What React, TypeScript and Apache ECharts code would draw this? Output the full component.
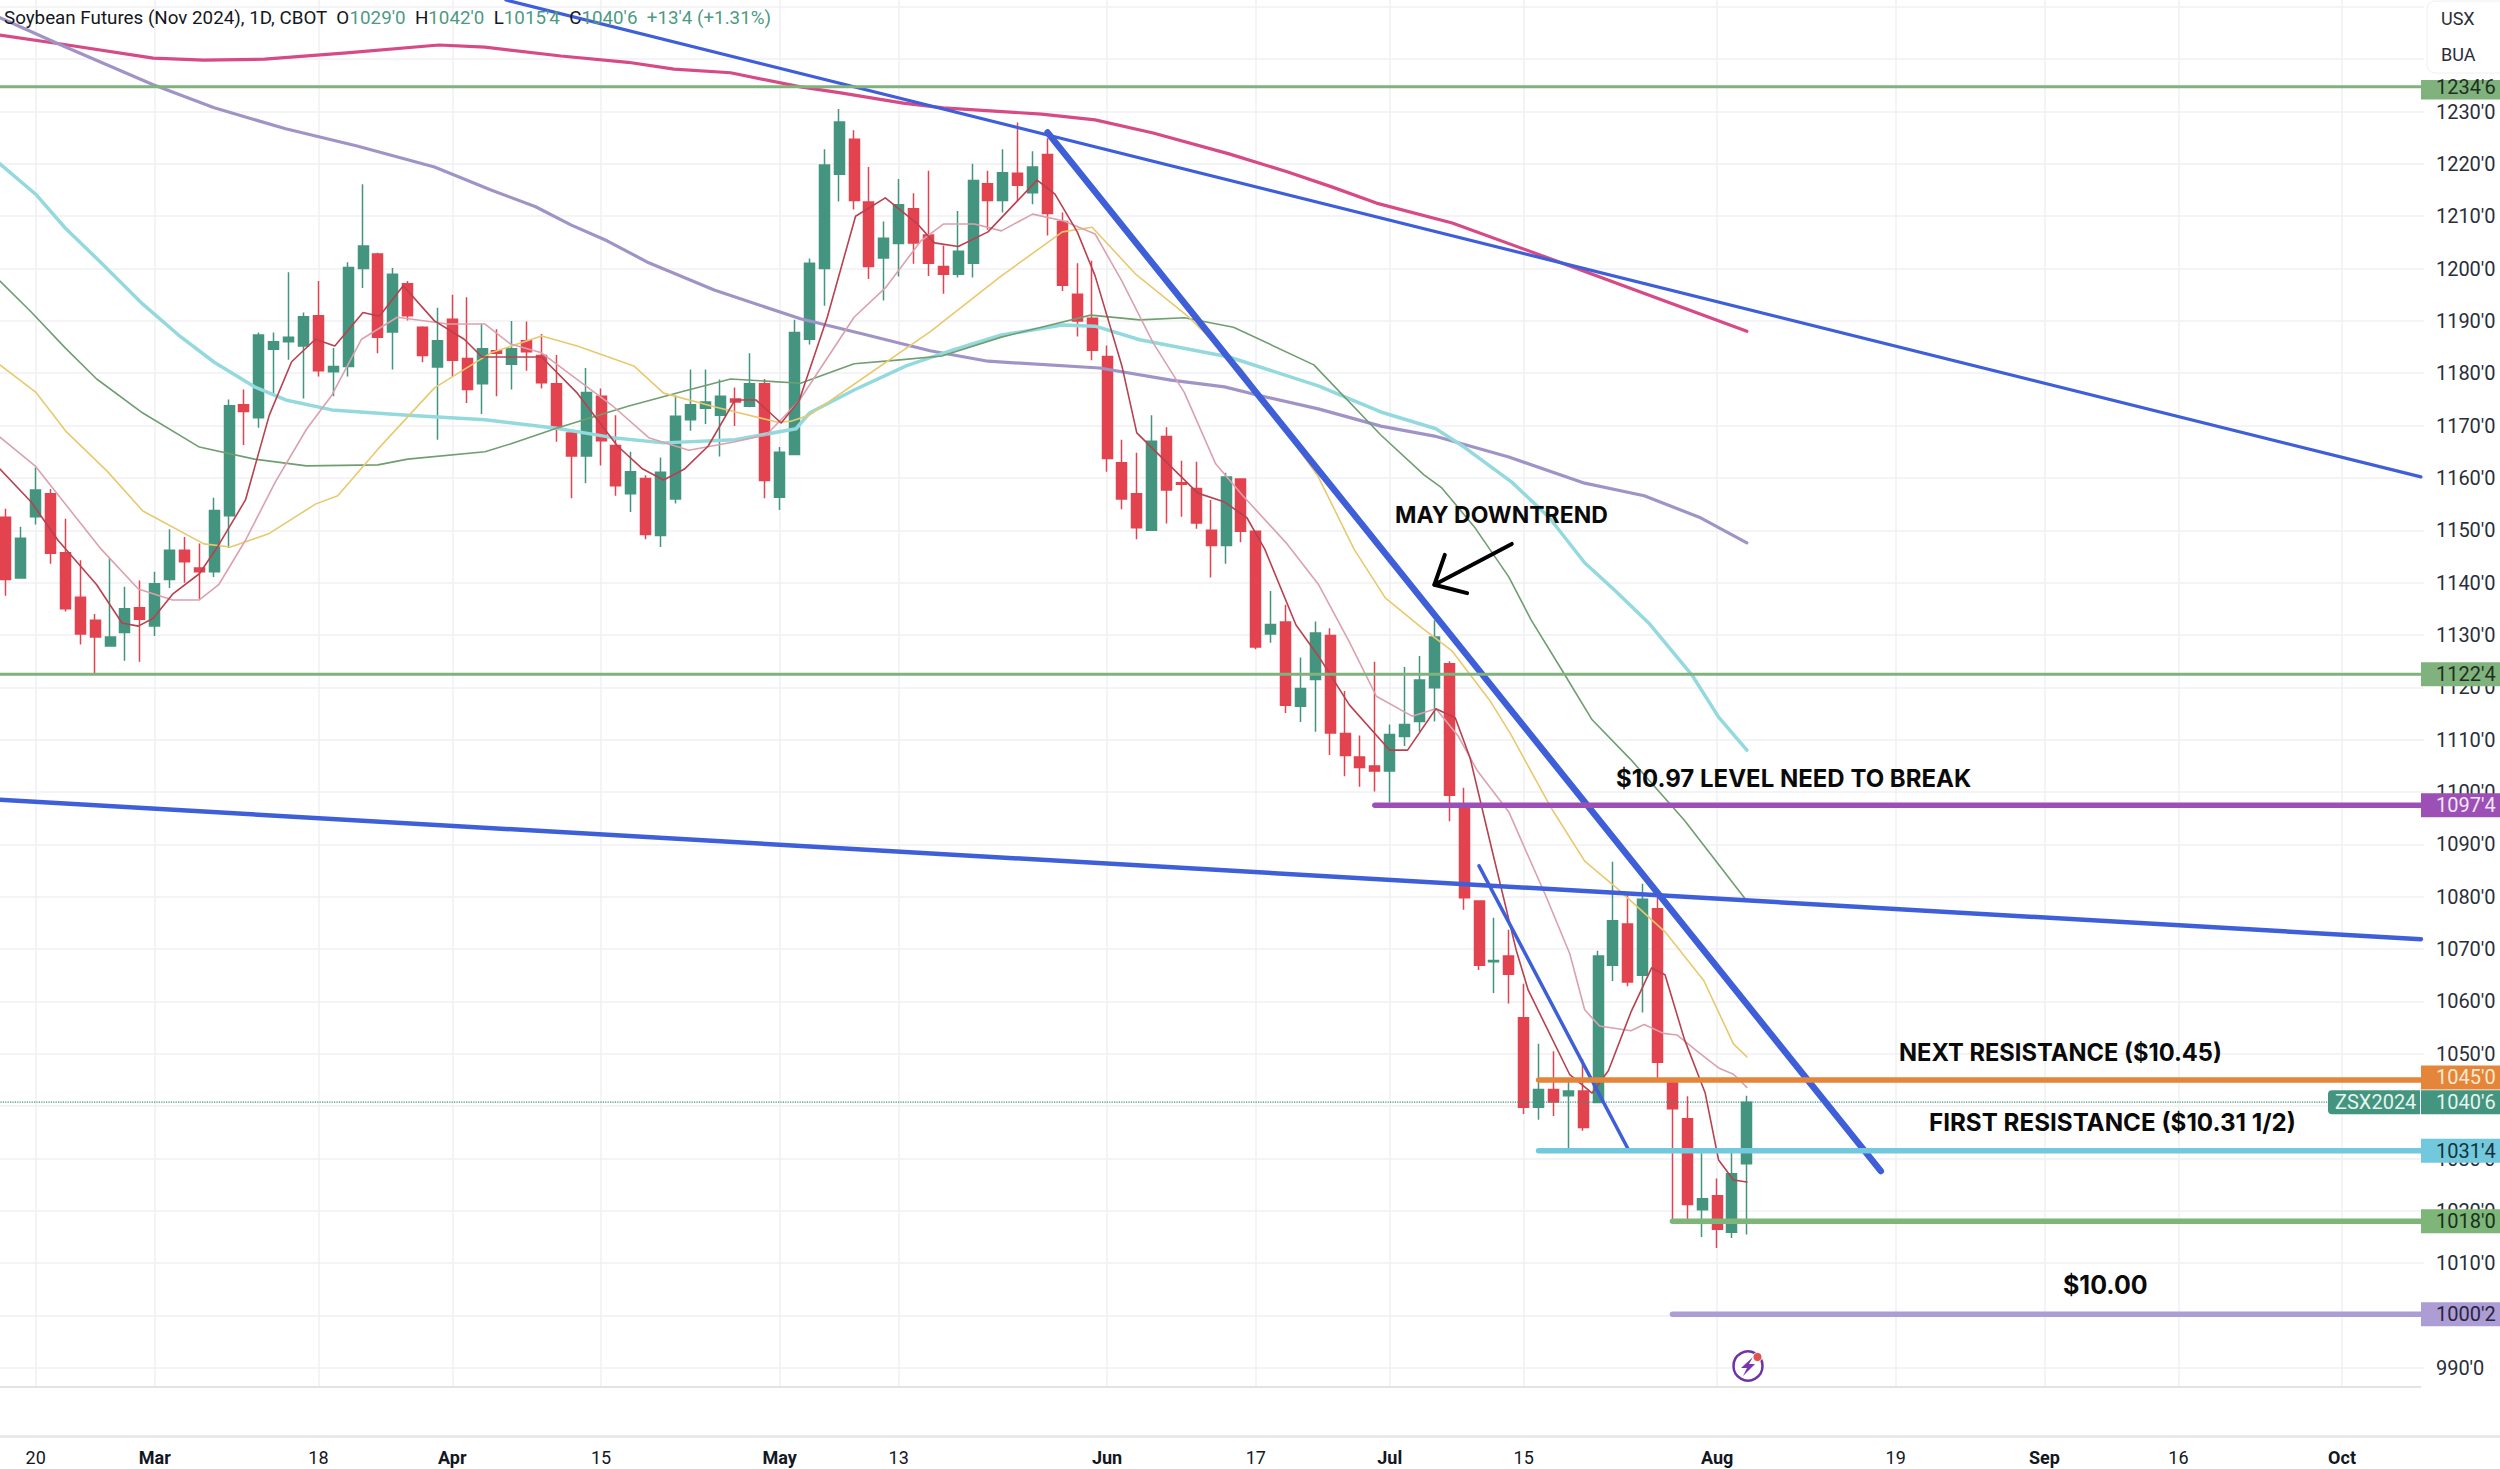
import React, { useEffect, useRef } from "react";
import * as echarts from "echarts";

// bar position 0 is 20 Feb 2024; the axis runs from bar -3 to bar 160
const firstBar = -3;
const lastBar = 160;
const tickBars = [0, 8, 19, 28, 38, 50, 58, 72, 82, 91, 100, 113, 125, 135, 144, 155];
const tickNames = ["20", "Mar", "18", "Apr", "15", "May", "13", "Jun", "17", "Jul", "15", "Aug", "19", "Sep", "16", "Oct"];
const monthNames = ["Mar", "Apr", "May", "Jun", "Jul", "Aug", "Sep", "Oct"];

// open, close, low, high from bar -2 to bar 115
const priceBars = [
  [1152.5,1140.6,1137.5,1154.1],[1140.9,1148.5,1140.9,1150.7],[1152.6,1157.7,1151.1,1162],[1157,1145.6,1143.6,1157.9],
  [1145.7,1135,1134.5,1152.2],[1137.2,1130.2,1128.2,1144.3],[1132.8,1129.6,1122.5,1134],[1127.9,1129.6,1127.9,1144.7],
  [1130.5,1135,1125.1,1139.2],[1135.2,1133,1124.9,1140.4],[1131.7,1139.8,1129.8,1142.1],[1140.6,1146.2,1139,1150.2],
  [1146.2,1144,1140,1148.7],[1142.8,1142.1,1136.8,1147.5],[1142.1,1153.8,1141.1,1156.2],[1152.8,1173.8,1146.6,1175],
  [1174,1172.7,1166.3,1176.9],[1171.5,1187.3,1169.6,1187.8],[1184.6,1186,1175.8,1187.8],[1186,1186.9,1182.6,1199.3],
  [1185.2,1190.8,1175.2,1191.6],[1191,1180.5,1179.4,1197.6],[1180.3,1181.3,1175.6,1184.8],[1181.3,1200.2,1179.4,1201.2],
  [1200,1204.3,1196.3,1216.1],[1202.8,1186.9,1183.8,1203],[1187.9,1198.9,1180.7,1200.1],[1197.1,1191,1190.1,1197.6],
  [1188.8,1183.4,1182.1,1189],[1181.2,1186.2,1167.3,1192.5],[1190.3,1182.5,1179.4,1195],[1182.8,1176.9,1174.3,1194.5],
  [1178,1184.7,1172.2,1189.5],[1184.3,1183.8,1175.6,1188.4],[1181.7,1184.7,1176.9,1190],[1186.2,1184.1,1180.5,1189.9],
  [1183.4,1178.2,1177.1,1187.5],[1178,1169.6,1166.9,1183.5],[1168.6,1164.2,1156.1,1169],[1164.2,1176.3,1159,1181],
  [1175.6,1167.1,1162.4,1177.1],[1166.2,1158.5,1156.6,1172],[1157,1161.2,1153.5,1165],[1159.9,1149.2,1148.3,1160.5],
  [1149,1161.1,1146.8,1163.9],[1156,1171.8,1155.1,1175.8],[1171.1,1174,1169,1180.7],[1173.3,1174.5,1170.3,1180.7],
  [1172,1175.6,1164.1,1178.8],[1175.1,1174.5,1169.9,1177.3],[1173.7,1178,1173.5,1183.8],[1178,1159.5,1156.1,1178.9],
  [1156.3,1164.9,1153.9,1165.9],[1164.5,1187.8,1164.5,1190.2],[1186.5,1201,1185.5,1201.9],[1200,1219.8,1192.9,1222.8],
  [1218,1228,1212.8,1230.5],[1224.7,1213,1211.3,1226.4],[1212.7,1200.4,1198,1219.4],[1202,1205.8,1193.9,1209],
  [1204.8,1212.2,1198.5,1217.1],[1211.4,1204.9,1200.9,1214.4],[1206.4,1201,1198.6,1218.7],[1200.4,1198.9,1195.2,1204.4],
  [1198.9,1203.3,1198.3,1211],[1201,1216.8,1198.3,1220],[1216.2,1213,1207.4,1218.7],[1213,1218.3,1210.7,1222.8],
  [1218.2,1215.9,1212.8,1227.9],[1214.5,1219.4,1212.3,1222.4],[1221.8,1210.5,1206.3,1224.9],[1209,1196.8,1195.7,1210.7],
  [1195.1,1190,1187,1201],[1190.5,1184.4,1182.5,1201.5],[1183.2,1163.7,1161.2,1185.3],[1162.9,1156,1154,1167.3],
  [1157,1150.5,1148.3,1164.8],[1150,1167,1150,1172],[1167.9,1157.7,1151.3,1169.7],[1159.1,1158.8,1152.6,1163.3],
  [1158,1151.4,1150.3,1163.1],[1150,1147.1,1141,1155.8],[1147.1,1160.2,1143.6,1161],[1159.8,1149.8,1147.7,1159.8],
  [1149.8,1127.7,1127.3,1149.8],[1130.2,1132,1128.5,1138.4],[1132.5,1116.6,1115.1,1135.8],[1116.4,1119.8,1113.4,1125.7],
  [1121.5,1130.4,1111.5,1132.6],[1129.9,1111.3,1107.1,1131.3],[1111.2,1107,1103,1119.3],[1106.7,1104.7,1101,1110.8],
  [1105,1104,1100.1,1124.9],[1104,1111,1098,1112.9],[1110.6,1112.9,1108.8,1123.9],[1113.5,1121.4,1111.5,1126],
  [1119.9,1129.6,1113.5,1132.8],[1124.5,1099.4,1094.4,1125],[1097.7,1079.8,1077.5,1100.8],[1079.2,1066.9,1066,1079.2],
  [1067.6,1067.8,1061.6,1076],[1068.7,1065.2,1059.6,1073.7],[1056.9,1039.8,1038.5,1063.4],[1039.8,1043.2,1037.4,1051.9],
  [1043.2,1040.8,1038.1,1050.5],[1042,1042.9,1031.9,1044.7],[1042.9,1035.9,1035.3,1049],[1040.7,1068.7,1040.7,1069.7],
  [1066.9,1075.4,1063.9,1086.7],[1074.8,1063.7,1062.9,1080.9],[1065,1079.5,1057.9,1082.5],[1077.7,1048.4,1044.7,1080.1],
  [1044.7,1039.5,1017.8,1045.1],[1037.6,1021.2,1018.2,1041.9],[1020.2,1022.3,1015,1031],[1022.9,1016.5,1012.9,1026.2],
  [1015.9,1027.1,1014.8,1031.9],[1029,1040.75,1015.5,1042],
];

// moving averages, as [bar position, price] pairs
const maCrimson = [[-3.5,1245],[-2.4,1244.6],[1.7,1242.9],[7.9,1240.2],[11.3,1239.8],[15.4,1240],[20.9,1241.2],[27.1,1242.7],[30.2,1242.3],[35.3,1240.6],[39.8,1239.4],[42.9,1238.1],[46.7,1237.4],[51.4,1234.7],[54,1233.6],[58.3,1231.6],[61,1230.7],[67.6,1229.5],[71.2,1228.4],[75.1,1225.9],[80.2,1221.9],[84.1,1218.5],[87.1,1215.6],[90.1,1212.5],[95.2,1208.7],[101.1,1202.6],[115,1188]];
const maLavender = [[-3.5,1250],[-2.4,1247.9],[1.7,1242.7],[7.9,1235.1],[12,1230.7],[16.8,1226.7],[21.6,1223.4],[26.8,1219.4],[30.6,1215],[33.6,1211.8],[36,1208.3],[38.4,1205.3],[41.2,1201.1],[45.6,1195.9],[51.4,1190.4],[55.6,1187.5],[60.1,1184.3],[64,1182.3],[71.5,1181],[76.3,1178.7],[79.9,1177.4],[82.3,1175.7],[86.2,1173.2],[90.4,1169.9],[94,1168],[99,1164],[104.1,1159],[108.1,1156.6],[111.8,1152.5],[115,1147.6]];
const maCyan = [[-3.5,1222],[-2.4,1220],[0,1214.2],[2,1207.7],[4.4,1201.1],[7.2,1193.2],[9.6,1187.3],[12,1182.1],[14.7,1177.4],[16.8,1174.9],[19.9,1173],[25,1172],[30.2,1171.1],[35,1169.5],[38.8,1167.7],[42.2,1166.7],[47,1167.3],[51.1,1169.4],[52,1172.4],[55,1176.8],[58.5,1181.4],[61.6,1184.4],[64.9,1187.3],[69,1189.2],[71.2,1189],[74.2,1186.4],[80.2,1183.1],[86.2,1177.6],[90.4,1172.6],[94.1,1169.4],[96,1165.9],[99.2,1159.2],[101.7,1152.5],[104.1,1143.8],[106.1,1138.6],[108.4,1132.3],[111.3,1122.4],[113.1,1114.3],[115,1108]];
const maOlive = [[-3.5,1200],[-2.4,1197.6],[-0.3,1191.7],[2,1184.8],[4.1,1178.9],[7.2,1172.4],[11,1165.9],[14.7,1163.6],[18.2,1162.3],[23,1162.5],[25,1163.6],[30.2,1165],[31.9,1166.5],[35,1169.5],[39.8,1173.7],[43.6,1176.6],[46.7,1178.9],[51.4,1178.1],[55,1181.8],[57.9,1182.5],[60.9,1183.3],[64.9,1186.9],[70.9,1191.1],[74.2,1190.2],[77.2,1190.6],[80.5,1188.8],[85.9,1181.6],[90.4,1168.2],[93.3,1160.6],[94.5,1158.1],[96.7,1150.6],[99,1141.1],[100.5,1132.9],[102.7,1122.7],[104.6,1113.8],[107.2,1106.2],[110.8,1094.6],[115,1079.2]];
const maYellow = [[-3.5,1184],[-2.4,1181.6],[0,1176.4],[2,1169],[4.8,1161.3],[7.2,1153.7],[11.3,1147.4],[13.1,1146.8],[15.7,1149.4],[18.8,1155],[20.3,1156.6],[23,1165.5],[26.8,1177.2],[30.6,1183.9],[34,1187.1],[36.4,1185.2],[40.2,1181.4],[42.2,1176.2],[45.6,1173.6],[49.8,1170.7],[50.7,1170.8],[52,1172],[55,1177.9],[60.1,1187.9],[64.9,1198.6],[69,1207],[71,1207.9],[73.9,1199],[77.5,1190.7],[81.1,1180.6],[84.1,1168.6],[86.2,1160.2],[88.6,1146.4],[90.7,1137.1],[93.1,1131.5],[95.2,1126.9],[97.7,1117.6],[99.1,1111.2],[101.8,1097.2],[104.1,1086.8],[106.2,1081.8],[109.5,1073.3],[112.1,1064],[114.1,1051.9],[115,1049.4]];
const maRed = [[-3.5,1164],[-2.4,1161.7],[-0.3,1155.4],[1.5,1148.1],[4.1,1139.6],[5.8,1132.3],[6.9,1131.7],[7.9,1133.2],[9.2,1137.8],[11,1141.7],[12.3,1147.2],[14.1,1155.8],[15.7,1172],[17.2,1182.2],[18.8,1186.5],[20.1,1185.2],[22,1191.6],[23.1,1190.9],[24.7,1196.7],[26.8,1190],[28.8,1186.5],[30,1183.1],[34,1183.1],[36.4,1176.2],[39.1,1166.1],[40.8,1161.7],[42.2,1159.6],[43.6,1161.7],[45.2,1166.1],[47,1174.9],[48.4,1174.9],[50.1,1170.5],[51.3,1174.7],[53.2,1190.7],[55.1,1210],[57.1,1213.5],[59.2,1208.7],[60.4,1204.9],[62,1204.2],[64,1207],[67.3,1216.9],[68.5,1214.2],[70,1207],[71.2,1198.6],[73,1181.4],[74,1168.6],[78.1,1157.1],[79.9,1155.4],[81.4,1152.4],[82.6,1146.4],[84.7,1131.9],[86.2,1126],[88.3,1116.6],[91,1108],[92.2,1108],[94.1,1115.9],[95.4,1114.2],[96.4,1106.5],[97.9,1088.6],[99.5,1069.8],[100.3,1062.2],[103.1,1046],[104.6,1042.5],[105.7,1046.8],[107.2,1057.9],[108.6,1066.4],[109.5,1065.1],[110.8,1052.8],[112.2,1042.5],[113.1,1029.7],[114.1,1025.9],[115,1025.5]];
const maMauve = [[-3.5,1170],[-2.4,1167.8],[0,1162.2],[1.3,1157.5],[4.4,1146.4],[6.9,1138.8],[9.2,1136.7],[11,1136.7],[12.3,1139.6],[14.1,1148.1],[16.1,1159.2],[18.2,1169.3],[19.9,1175.8],[21.9,1186.5],[24.3,1190.7],[27.7,1189.4],[30.2,1189.4],[31.9,1185.6],[34,1183.9],[36.4,1178.8],[38.8,1173.7],[41.2,1167.7],[43.9,1165.3],[47,1166.9],[49.1,1168.2],[51.3,1174.7],[55,1190.7],[57.1,1196.3],[59.5,1205.3],[61,1208.5],[63.1,1208.5],[64.9,1207.2],[67,1210.4],[69.1,1209.1],[71.2,1206.6],[73,1197.6],[75.1,1185.8],[77.2,1176.3],[79.3,1162.7],[81.1,1156.7],[84.1,1147.4],[86.2,1139.7],[88.3,1128.6],[90.1,1118.3],[92.5,1114.5],[94.1,1115.9],[95.6,1110.7],[96.9,1104],[99,1096.2],[101.5,1080.1],[103.1,1069.1],[104.1,1058.4],[105.1,1055.3],[107.2,1054.4],[108.1,1055.6],[109.4,1053.9],[110.3,1053.6],[111.8,1050.2],[113.1,1047.3],[114.1,1046.1],[115,1043.6]];

// drawn trend lines, as [bar position, price] pairs
const trendMay = [[68, 1226], [124, 1027.6]];
const trendUpper = [[31.6, 1251.3], [160.3, 1160.2]];
const trendLong = [[-3.5, 1098.7], [160.3, 1071.9]];
const trendShort = [[97, 1085.9], [107, 1031.9]];
const arrowShaft = [[99.2, 1147.4], [94, 1139.6]];
const arrowHead = [[94.7, 1145.3], [94, 1139.6], [96.2, 1138]];

// horizontal levels
const levelValues = [1234.75, 1122.5, 1097.5, 1045, 1031.5, 1018, 1000.25];
const levelLabels = ["1234'6", "1122'4", "1097'4", "1045'0", "1031'4", "1018'0", "1000'2"];
const levelStarts = [-3.5, -3.5, 90, 101, 101, 110, 110];
const levelWidths = [3, 3, 5.5, 5.5, 5.5, 5.5, 5.5];
const levelColors = ["#7fb27c", "#7fb27c", "#9c4fb5", "#e5853a", "#72c8dc", "#7db678", "#ac9dd4"];
const levelTextColors = ["#20301f", "#20301f", "#f3e6f6", "#fbeacf", "#16323a", "#18301a", "#2a2440"];

const lastPrice = 1040.75;
const lastPriceLabel = "1040'6";
const symbolLabel = "ZSX2024";
const notes = ["MAY DOWNTREND", "$10.97 LEVEL NEED TO BREAK", "NEXT RESISTANCE ($10.45)", "FIRST RESISTANCE ($10.31 1/2)", "$10.00"];

const GREEN = "#44957f";
const RED = "#e2434f";
const BLUE = "#3f5fd8";
const GRID = "#f0f1f3";

const categories: string[] = [];
for (let b = firstBar; b <= lastBar; b++) {
  const k = tickBars.indexOf(b);
  categories.push(k >= 0 ? tickNames[k] : "");
}
const showTick = (_: number, v: string) => v !== "";

const lineSeries = (name: string, data: number[][], color: string, width: number, z = 4, extra: any = {}) => ({
  name,
  type: "line",
  xAxisIndex: 1,
  yAxisIndex: 0,
  data,
  showSymbol: false,
  symbol: "none",
  silent: true,
  z,
  lineStyle: { color, width, cap: "round", join: "round", ...extra },
});

export default function App() {
  const ref = useRef<HTMLDivElement>(null);
  useEffect(() => {
    const chart = echarts.init(ref.current!, undefined, { renderer: "svg" });
    chart.setOption({
      animation: false,
      backgroundColor: "#ffffff",
      grid: [
        { left: -16.4, right: 76.1, top: -45.55, height: 1465.8, outerBoundsMode: "none" },
        { left: -16.4, right: 76.1, top: 1387, height: 49, outerBoundsMode: "none" },
      ],
      xAxis: [
        {
          type: "category",
          gridIndex: 0,
          data: categories,
          axisLine: { show: false },
          axisTick: { show: false },
          axisLabel: { show: false },
          splitLine: { show: true, alignWithLabel: true, interval: showTick, lineStyle: { color: GRID, width: 1.5 } },
        },
        { type: "value", gridIndex: 0, min: firstBar - 0.5, max: lastBar + 0.5, show: false, splitLine: { show: false } },
        {
          type: "category",
          gridIndex: 1,
          data: categories,
          axisLine: { show: false },
          axisTick: { show: false },
          splitLine: { show: false },
          axisLabel: {
            show: true,
            interval: showTick,
            margin: 12,
            formatter: (v: string) => (monthNames.includes(v) ? `{m|${v}}` : `{d|${v}}`),
            rich: {
              m: { fontFamily: "Roboto", fontSize: 18, fontWeight: 700, color: "#131722" },
              d: { fontFamily: "Roboto", fontSize: 18, fontWeight: 400, color: "#131722" },
            },
          },
        },
      ],
      yAxis: [
        {
          type: "value",
          gridIndex: 0,
          position: "right",
          min: 980,
          max: 1260,
          interval: 10,
          axisLine: { show: false },
          axisTick: { show: false },
          splitLine: { show: true, lineStyle: { color: GRID, width: 1.5 } },
          axisLabel: {
            margin: 12,
            color: "#2a2e39",
            fontFamily: "Roboto",
            fontSize: 20,
            formatter: (v: number) => (v < 990 || v > 1230 ? "" : `${v}'0`),
          },
        },
        { type: "value", gridIndex: 1, show: false, splitLine: { show: false } },
      ],
      series: [
        {
          name: "Soybean Futures",
          type: "candlestick",
          xAxisIndex: 0,
          yAxisIndex: 0,
          barWidth: 10.5,
          z: 2,
          data: ["-", ...priceBars],
          itemStyle: { color: GREEN, color0: RED, borderColor: GREEN, borderColor0: RED, borderWidth: 1.5 },
        },
        lineSeries("MA crimson", maCrimson, "#d64a86", 3.2),
        lineSeries("MA lavender", maLavender, "#a094c6", 3.2),
        lineSeries("MA cyan", maCyan, "#93d9dd", 3.5),
        lineSeries("MA olive", maOlive, "#6f9e70", 1.6),
        lineSeries("MA yellow", maYellow, "#e9c96d", 1.6),
        lineSeries("MA mauve", maMauve, "#d9a2ae", 1.6),
        lineSeries("MA red", maRed, "#b8414f", 1.6),
        lineSeries("Last price", [[firstBar - 0.5, lastPrice], [154.2, lastPrice]], "#3f8f7a", 1.2, 3, { type: "dotted", cap: "butt" }),
        lineSeries("Long trend", trendLong, BLUE, 4.5, 5),
        lineSeries("Upper trend", trendUpper, BLUE, 3.2, 5),
        lineSeries("May trend", trendMay, BLUE, 6.5, 5),
        lineSeries("Short trend", trendShort, BLUE, 3.5, 5),
        ...levelValues.map((v, k) =>
          lineSeries(`Level ${levelLabels[k]}`, [[levelStarts[k], v], [lastBar + 0.5, v]], levelColors[k], levelWidths[k], 6)
        ),
        lineSeries("Arrow shaft", arrowShaft, "#000000", 4, 7),
        lineSeries("Arrow head", arrowHead, "#000000", 4, 7),
      ],
    });

    const yOf = (v: number) => chart.convertToPixel({ yAxisIndex: 0 }, v) as number;
    const tags: any[] = [];
    levelValues.forEach((v, k) => {
      const c = yOf(v);
      const top = k === 0 ? 80 : k === 3 ? c - 14.5 : c - 12;
      const h = k === 0 ? 19.5 : 24;
      tags.push({ type: "rect", z: 20, shape: { x: 2421, y: top, width: 79, height: h }, style: { fill: levelColors[k] } });
      tags.push({
        type: "text",
        z: 21,
        style: { x: 2436, y: k === 3 ? c - 2.5 : c, text: levelLabels[k], fill: levelTextColors[k], verticalAlign: "middle", font: `20px Roboto` },
      });
    });
    const py = yOf(lastPrice);
    tags.push({ type: "rect", z: 20, shape: { x: 2421, y: py - 12, width: 79, height: 24 }, style: { fill: GREEN } });
    tags.push({ type: "text", z: 21, style: { x: 2436, y: py, text: lastPriceLabel, fill: "#e6f4ef", verticalAlign: "middle", font: "20px Roboto" } });
    tags.push({ type: "rect", z: 20, shape: { x: 2328, y: py - 12, width: 92, height: 24, r: [4, 0, 0, 4] }, style: { fill: GREEN } });
    tags.push({ type: "text", z: 21, style: { x: 2335, y: py, text: symbolLabel, fill: "#e6f4ef", verticalAlign: "middle", font: "20px Roboto" } });

    const noteSpots = [
      [1395, 515, 23],
      [1616, 778, 24],
      [1899, 1052, 23.7],
      [1929, 1122, 24.2],
      [2063, 1285, 25],
    ];
    const noteEls = notes.map((t, k) => ({
      type: "text",
      z: 22,
      style: { x: noteSpots[k][0], y: noteSpots[k][1], text: t, fill: "#0a0a0a", verticalAlign: "middle", font: `700 ${noteSpots[k][2]}px Inter` },
    }));

    chart.setOption({
      graphic: [
        { type: "rect", z: 10, shape: { x: 0, y: 1388, width: 2500, height: 48 }, style: { fill: "#ffffff" } },
        { type: "line", z: 11, shape: { x1: 0, y1: 1387, x2: 2421, y2: 1387 }, style: { stroke: "#e3e3e3", lineWidth: 2 } },
        { type: "line", z: 11, shape: { x1: 0, y1: 1436.5, x2: 2500, y2: 1436.5 }, style: { stroke: "#e6e6e6", lineWidth: 2.5 } },
        ...tags,
        ...noteEls,
        { type: "rect", z: 23, shape: { x: 2427, y: 1, width: 90, height: 72, r: 8 }, style: { fill: "#ffffff", stroke: "#f0f0f0", lineWidth: 1 } },
        { type: "text", z: 24, style: { x: 2441, y: 18, text: "USX", fill: "#2a2e39", verticalAlign: "middle", font: "18px Roboto" } },
        { type: "text", z: 24, style: { x: 2441, y: 54, text: "BUA", fill: "#2a2e39", verticalAlign: "middle", font: "18px Roboto" } },
        {
          type: "text",
          z: 24,
          style: {
            x: 4,
            y: 18,
            verticalAlign: "middle",
            text: "{k|Soybean Futures (Nov 2024), 1D, CBOT  O}{v|1029'0}{k|  H}{v|1042'0}{k|  L}{v|1015'4}{k|  C}{v|1040'6  +13'4 (+1.31%)}",
            rich: {
              k: { fontFamily: "Roboto", fontSize: 18.8, fill: "#131722", color: "#131722" },
              v: { fontFamily: "Roboto", fontSize: 18.8, fill: "#4d9a83", color: "#4d9a83" },
            },
          },
        },
        { type: "circle", z: 12, shape: { cx: 1748, cy: 1366, r: 14.5 }, style: { fill: "#ffffff", stroke: "#6f33a8", lineWidth: 2.5 } },
        { type: "polygon", z: 13, shape: { points: [[1753, 1357], [1741, 1368], [1747, 1368], [1743, 1376], [1755, 1364], [1749, 1364]] }, style: { fill: "#7a35b0" } },
        { type: "circle", z: 14, shape: { cx: 1757.5, cy: 1357, r: 4.5 }, style: { fill: "#e0524f", stroke: "#ffffff", lineWidth: 1 } },
      ],
    });
    return () => chart.dispose();
  }, []);
  return <div ref={ref} style={{ position: "absolute", left: 0, top: 0, width: 2500, height: 1469 }} />;
}
